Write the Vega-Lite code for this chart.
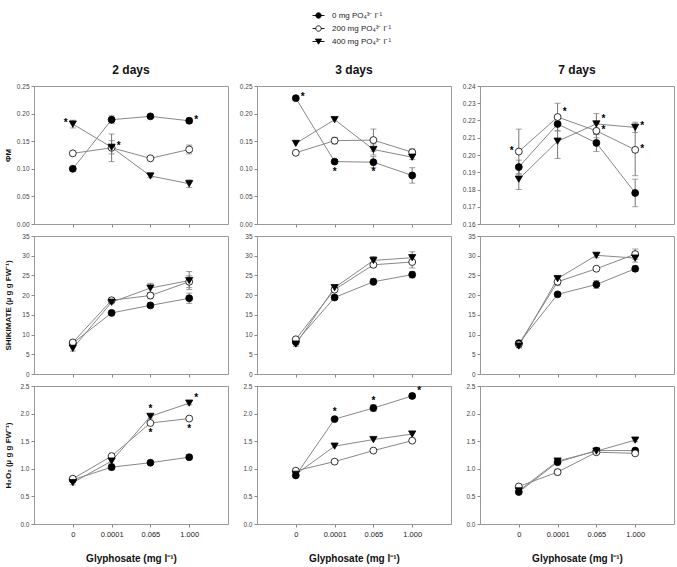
{
  "$schema": "https://vega.github.io/schema/vega-lite/v6.json",
  "padding": {"left": 3, "top": 9, "right": 5, "bottom": 5},
  "config": {
    "font": "Liberation Sans",
    "view": {"stroke": "#999", "strokeWidth": 1},
    "axis": {"domain": false, "grid": false, "tickColor": "#888", "tickSize": 3, "labelColor": "#444", "labelFontSize": 6.5, "labelPadding": 2, "titleFontWeight": "bold", "titleColor": "#111"},
    "title": {"fontSize": 12, "fontWeight": "bold", "offset": 6, "color": "#111"},
    "legend": {"orient": "none", "legendX": 278, "legendY": -77, "title": null, "labelFontSize": 8, "labelColor": "#222", "symbolSize": 144, "symbolOpacity": 1, "rowPadding": 2, "labelOffset": 7, "symbolStrokeWidth": 0.9}
  },
  "datasets": {
    "d": [
      {"d":"2","v":"p","g":"0","c":"0","m":0.100,"e":0.004,"s":""},
      {"d":"2","v":"p","g":"0","c":"0.0001","m":0.189,"e":0.007,"s":""},
      {"d":"2","v":"p","g":"0","c":"0.065","m":0.195,"e":0.003,"s":""},
      {"d":"2","v":"p","g":"0","c":"1.000","m":0.187,"e":0.005,"s":"r"},
      {"d":"2","v":"p","g":"200","c":"0","m":0.128,"e":0,"s":""},
      {"d":"2","v":"p","g":"200","c":"0.0001","m":0.138,"e":0.025,"s":""},
      {"d":"2","v":"p","g":"200","c":"0.065","m":0.119,"e":0,"s":""},
      {"d":"2","v":"p","g":"200","c":"1.000","m":0.135,"e":0.008,"s":""},
      {"d":"2","v":"p","g":"400","c":"0","m":0.181,"e":0.007,"s":"l"},
      {"d":"2","v":"p","g":"400","c":"0.0001","m":0.139,"e":0.012,"s":"r"},
      {"d":"2","v":"p","g":"400","c":"0.065","m":0.087,"e":0.003,"s":""},
      {"d":"2","v":"p","g":"400","c":"1.000","m":0.073,"e":0.007,"s":""},

      {"d":"3","v":"p","g":"0","c":"0","m":0.228,"e":0.003,"s":"r"},
      {"d":"3","v":"p","g":"0","c":"0.0001","m":0.113,"e":0.003,"s":"b"},
      {"d":"3","v":"p","g":"0","c":"0.065","m":0.112,"e":0.010,"s":"b"},
      {"d":"3","v":"p","g":"0","c":"1.000","m":0.088,"e":0.014,"s":""},
      {"d":"3","v":"p","g":"200","c":"0","m":0.129,"e":0.002,"s":""},
      {"d":"3","v":"p","g":"200","c":"0.0001","m":0.151,"e":0.006,"s":""},
      {"d":"3","v":"p","g":"200","c":"0.065","m":0.152,"e":0.020,"s":""},
      {"d":"3","v":"p","g":"200","c":"1.000","m":0.130,"e":0.006,"s":""},
      {"d":"3","v":"p","g":"400","c":"0","m":0.146,"e":0,"s":""},
      {"d":"3","v":"p","g":"400","c":"0.0001","m":0.189,"e":0,"s":""},
      {"d":"3","v":"p","g":"400","c":"0.065","m":0.135,"e":0.010,"s":""},
      {"d":"3","v":"p","g":"400","c":"1.000","m":0.121,"e":0.004,"s":""},

      {"d":"7","v":"p","g":"0","c":"0","m":0.193,"e":0.004,"s":""},
      {"d":"7","v":"p","g":"0","c":"0.0001","m":0.218,"e":0.004,"s":""},
      {"d":"7","v":"p","g":"0","c":"0.065","m":0.207,"e":0.005,"s":""},
      {"d":"7","v":"p","g":"0","c":"1.000","m":0.178,"e":0.008,"s":""},
      {"d":"7","v":"p","g":"200","c":"0","m":0.202,"e":0.013,"s":"l"},
      {"d":"7","v":"p","g":"200","c":"0.0001","m":0.222,"e":0.008,"s":"u"},
      {"d":"7","v":"p","g":"200","c":"0.065","m":0.214,"e":0.004,"s":"r"},
      {"d":"7","v":"p","g":"200","c":"1.000","m":0.203,"e":0.015,"s":"r"},
      {"d":"7","v":"p","g":"400","c":"0","m":0.186,"e":0.006,"s":""},
      {"d":"7","v":"p","g":"400","c":"0.0001","m":0.208,"e":0.010,"s":""},
      {"d":"7","v":"p","g":"400","c":"0.065","m":0.218,"e":0.006,"s":"u"},
      {"d":"7","v":"p","g":"400","c":"1.000","m":0.216,"e":0.003,"s":"r"},

      {"d":"2","v":"s","g":"0","c":"0","m":7.8,"e":0.3,"s":""},
      {"d":"2","v":"s","g":"0","c":"0.0001","m":15.5,"e":0.5,"s":""},
      {"d":"2","v":"s","g":"0","c":"0.065","m":17.4,"e":0.5,"s":""},
      {"d":"2","v":"s","g":"0","c":"1.000","m":19.2,"e":1.3,"s":""},
      {"d":"2","v":"s","g":"200","c":"0","m":8.0,"e":0.4,"s":""},
      {"d":"2","v":"s","g":"200","c":"0.0001","m":18.7,"e":0.5,"s":""},
      {"d":"2","v":"s","g":"200","c":"0.065","m":19.9,"e":0.8,"s":""},
      {"d":"2","v":"s","g":"200","c":"1.000","m":23.4,"e":1.5,"s":""},
      {"d":"2","v":"s","g":"400","c":"0","m":6.5,"e":0.7,"s":""},
      {"d":"2","v":"s","g":"400","c":"0.0001","m":18.2,"e":0.4,"s":""},
      {"d":"2","v":"s","g":"400","c":"0.065","m":21.8,"e":1.2,"s":""},
      {"d":"2","v":"s","g":"400","c":"1.000","m":23.7,"e":2.3,"s":""},

      {"d":"3","v":"s","g":"0","c":"0","m":8.1,"e":0,"s":""},
      {"d":"3","v":"s","g":"0","c":"0.0001","m":19.4,"e":0.5,"s":""},
      {"d":"3","v":"s","g":"0","c":"0.065","m":23.4,"e":0.8,"s":""},
      {"d":"3","v":"s","g":"0","c":"1.000","m":25.2,"e":0.8,"s":""},
      {"d":"3","v":"s","g":"200","c":"0","m":8.8,"e":0,"s":""},
      {"d":"3","v":"s","g":"200","c":"0.0001","m":21.4,"e":0,"s":""},
      {"d":"3","v":"s","g":"200","c":"0.065","m":27.7,"e":0.6,"s":""},
      {"d":"3","v":"s","g":"200","c":"1.000","m":28.4,"e":1.5,"s":""},
      {"d":"3","v":"s","g":"400","c":"0","m":7.6,"e":0.6,"s":""},
      {"d":"3","v":"s","g":"400","c":"0.0001","m":21.9,"e":0,"s":""},
      {"d":"3","v":"s","g":"400","c":"0.065","m":28.8,"e":1.0,"s":""},
      {"d":"3","v":"s","g":"400","c":"1.000","m":29.5,"e":1.5,"s":""},

      {"d":"7","v":"s","g":"0","c":"0","m":7.8,"e":0,"s":""},
      {"d":"7","v":"s","g":"0","c":"0.0001","m":20.2,"e":0.5,"s":""},
      {"d":"7","v":"s","g":"0","c":"0.065","m":22.7,"e":1.0,"s":""},
      {"d":"7","v":"s","g":"0","c":"1.000","m":26.7,"e":0.7,"s":""},
      {"d":"7","v":"s","g":"200","c":"0","m":7.5,"e":0,"s":""},
      {"d":"7","v":"s","g":"200","c":"0.0001","m":23.4,"e":1.0,"s":""},
      {"d":"7","v":"s","g":"200","c":"0.065","m":26.7,"e":0,"s":""},
      {"d":"7","v":"s","g":"200","c":"1.000","m":30.4,"e":1.3,"s":""},
      {"d":"7","v":"s","g":"400","c":"0","m":7.1,"e":0.5,"s":""},
      {"d":"7","v":"s","g":"400","c":"0.0001","m":24.2,"e":0,"s":""},
      {"d":"7","v":"s","g":"400","c":"0.065","m":30.1,"e":0.6,"s":""},
      {"d":"7","v":"s","g":"400","c":"1.000","m":29.4,"e":1.0,"s":""},

      {"d":"2","v":"h","g":"0","c":"0","m":0.80,"e":0,"s":""},
      {"d":"2","v":"h","g":"0","c":"0.0001","m":1.03,"e":0.05,"s":""},
      {"d":"2","v":"h","g":"0","c":"0.065","m":1.11,"e":0.03,"s":""},
      {"d":"2","v":"h","g":"0","c":"1.000","m":1.21,"e":0.03,"s":""},
      {"d":"2","v":"h","g":"200","c":"0","m":0.82,"e":0,"s":""},
      {"d":"2","v":"h","g":"200","c":"0.0001","m":1.23,"e":0,"s":""},
      {"d":"2","v":"h","g":"200","c":"0.065","m":1.83,"e":0,"s":"b"},
      {"d":"2","v":"h","g":"200","c":"1.000","m":1.91,"e":0,"s":"b"},
      {"d":"2","v":"h","g":"400","c":"0","m":0.75,"e":0.04,"s":""},
      {"d":"2","v":"h","g":"400","c":"0.0001","m":1.14,"e":0.05,"s":""},
      {"d":"2","v":"h","g":"400","c":"0.065","m":1.95,"e":0.03,"s":"a"},
      {"d":"2","v":"h","g":"400","c":"1.000","m":2.19,"e":0.03,"s":"u"},

      {"d":"3","v":"h","g":"0","c":"0","m":0.88,"e":0.02,"s":""},
      {"d":"3","v":"h","g":"0","c":"0.0001","m":1.90,"e":0.03,"s":"a"},
      {"d":"3","v":"h","g":"0","c":"0.065","m":2.10,"e":0.06,"s":"a"},
      {"d":"3","v":"h","g":"0","c":"1.000","m":2.32,"e":0.04,"s":"u"},
      {"d":"3","v":"h","g":"200","c":"0","m":0.965,"e":0,"s":""},
      {"d":"3","v":"h","g":"200","c":"0.0001","m":1.13,"e":0,"s":""},
      {"d":"3","v":"h","g":"200","c":"0.065","m":1.33,"e":0,"s":""},
      {"d":"3","v":"h","g":"200","c":"1.000","m":1.51,"e":0,"s":""},
      {"d":"3","v":"h","g":"400","c":"0","m":0.90,"e":0,"s":""},
      {"d":"3","v":"h","g":"400","c":"0.0001","m":1.41,"e":0,"s":""},
      {"d":"3","v":"h","g":"400","c":"0.065","m":1.53,"e":0,"s":""},
      {"d":"3","v":"h","g":"400","c":"1.000","m":1.63,"e":0,"s":""},

      {"d":"7","v":"h","g":"0","c":"0","m":0.58,"e":0,"s":""},
      {"d":"7","v":"h","g":"0","c":"0.0001","m":1.12,"e":0.03,"s":""},
      {"d":"7","v":"h","g":"0","c":"0.065","m":1.33,"e":0,"s":""},
      {"d":"7","v":"h","g":"0","c":"1.000","m":1.33,"e":0,"s":""},
      {"d":"7","v":"h","g":"200","c":"0","m":0.68,"e":0,"s":""},
      {"d":"7","v":"h","g":"200","c":"0.0001","m":0.94,"e":0.05,"s":""},
      {"d":"7","v":"h","g":"200","c":"0.065","m":1.30,"e":0,"s":""},
      {"d":"7","v":"h","g":"200","c":"1.000","m":1.28,"e":0,"s":""},
      {"d":"7","v":"h","g":"400","c":"0","m":0.60,"e":0,"s":""},
      {"d":"7","v":"h","g":"400","c":"0.0001","m":1.14,"e":0,"s":""},
      {"d":"7","v":"h","g":"400","c":"0.065","m":1.32,"e":0,"s":""},
      {"d":"7","v":"h","g":"400","c":"1.000","m":1.52,"e":0.03,"s":""}
    ]
  },
  "spacing": 4,
  "vconcat": [
    {"hconcat": [
      {"width": 194, "height": 138, "title": "2 days", "data": {"name": "d"},
       "transform": [{"filter": "datum.d=='2' && datum.v=='p'"}],
       "encoding": {
         "x": {"field": "c", "type": "ordinal", "scale": {"type": "point", "padding": 1, "domain": ["0","0.0001","0.065","1.000"]}, "axis": {"labels": false, "title": null}},
         "y": {"field": "m", "type": "quantitative", "scale": {"domain": [0, 0.25], "nice": false, "zero": false}, "axis": {"values": [0,0.05,0.1,0.15,0.2,0.25], "format": ".2f", "title": "ΦM", "titleFontSize": 8, "titlePadding": 3, "minExtent": 19, "maxExtent": 19}}
       },
       "layer": [
         {"mark": {"type": "line", "color": "#888", "strokeWidth": 1}, "encoding": {"detail": {"field": "g"}}},
         {"transform": [{"filter": "datum.e>0"}], "mark": {"type": "errorbar", "ticks": {"size": 6}, "color": "#777"}, "encoding": {"yError": {"field": "e"}}},
         {"transform": [{"filter": "datum.g=='0'"}], "mark": {"type": "point", "shape": "circle", "filled": true, "fill": "black", "stroke": "black", "strokeWidth": 0.8, "size": 48, "opacity": 1}},
         {"transform": [{"filter": "datum.g=='200'"}], "mark": {"type": "point", "shape": "circle", "filled": true, "fill": "white", "stroke": "black", "strokeWidth": 0.8, "size": 48, "opacity": 1}},
         {"transform": [{"filter": "datum.g=='400'"}], "mark": {"type": "point", "shape": "triangle-down", "filled": true, "fill": "black", "stroke": "black", "strokeWidth": 0.8, "size": 52, "opacity": 1}},
         {"mark": {"type": "point", "filled": true, "opacity": 0},
          "encoding": {
            "shape": {"field": "g", "type": "nominal", "scale": {"domain": ["0","200","400"], "range": ["M-1,0H1M0.45,0A0.45,0.45,0,1,1,-0.45,0A0.45,0.45,0,1,1,0.45,0Z", "M-1,0H-0.45M0.45,0H1M0.45,0A0.45,0.45,0,1,1,-0.45,0A0.45,0.45,0,1,1,0.45,0Z", "M-1,0H1M-0.5,-0.4H0.5L0,0.45Z"]}, "legend": {"labelExpr": "datum.label + ' mg PO₄³⁻ l⁻¹'"}},
            "fill": {"field": "g", "type": "nominal", "scale": {"domain": ["0","200","400"], "range": ["black","white","black"]}, "legend": {"labelExpr": "datum.label + ' mg PO₄³⁻ l⁻¹'"}},
            "stroke": {"field": "g", "type": "nominal", "scale": {"domain": ["0","200","400"], "range": ["black","black","black"]}, "legend": {"labelExpr": "datum.label + ' mg PO₄³⁻ l⁻¹'"}}
          }},
         {"transform": [{"filter": "datum.s=='r'"}], "mark": {"type": "text", "text": "*", "dx": 7, "dy": -1, "fontSize": 10, "fontWeight": "bold", "color": "black"}},
         {"transform": [{"filter": "datum.s=='u'"}], "mark": {"type": "text", "text": "*", "dx": 7, "dy": -5, "fontSize": 10, "fontWeight": "bold", "color": "black"}},
         {"transform": [{"filter": "datum.s=='l'"}], "mark": {"type": "text", "text": "*", "dx": -7, "dy": -1, "fontSize": 10, "fontWeight": "bold", "color": "black"}},
         {"transform": [{"filter": "datum.s=='a'"}], "mark": {"type": "text", "text": "*", "dy": -7, "fontSize": 10, "fontWeight": "bold", "color": "black"}},
         {"transform": [{"filter": "datum.s=='b'"}], "mark": {"type": "text", "text": "*", "dy": 10, "fontSize": 10, "fontWeight": "bold", "color": "black"}}
       ]},
      {"width": 194, "height": 138, "title": "3 days", "data": {"name": "d"},
       "transform": [{"filter": "datum.d=='3' && datum.v=='p'"}],
       "encoding": {
         "x": {"field": "c", "type": "ordinal", "scale": {"type": "point", "padding": 1, "domain": ["0","0.0001","0.065","1.000"]}, "axis": {"labels": false, "title": null}},
         "y": {"field": "m", "type": "quantitative", "scale": {"domain": [0, 0.25], "nice": false, "zero": false}, "axis": {"values": [0,0.05,0.1,0.15,0.2,0.25], "format": ".2f", "title": null, "minExtent": 19, "maxExtent": 19}}
       },
       "layer": [
         {"mark": {"type": "line", "color": "#888", "strokeWidth": 1}, "encoding": {"detail": {"field": "g"}}},
         {"transform": [{"filter": "datum.e>0"}], "mark": {"type": "errorbar", "ticks": {"size": 6}, "color": "#777"}, "encoding": {"yError": {"field": "e"}}},
         {"transform": [{"filter": "datum.g=='0'"}], "mark": {"type": "point", "shape": "circle", "filled": true, "fill": "black", "stroke": "black", "strokeWidth": 0.8, "size": 48, "opacity": 1}},
         {"transform": [{"filter": "datum.g=='200'"}], "mark": {"type": "point", "shape": "circle", "filled": true, "fill": "white", "stroke": "black", "strokeWidth": 0.8, "size": 48, "opacity": 1}},
         {"transform": [{"filter": "datum.g=='400'"}], "mark": {"type": "point", "shape": "triangle-down", "filled": true, "fill": "black", "stroke": "black", "strokeWidth": 0.8, "size": 52, "opacity": 1}},
         {"transform": [{"filter": "datum.s=='r'"}], "mark": {"type": "text", "text": "*", "dx": 7, "dy": -1, "fontSize": 10, "fontWeight": "bold", "color": "black"}},
         {"transform": [{"filter": "datum.s=='u'"}], "mark": {"type": "text", "text": "*", "dx": 7, "dy": -5, "fontSize": 10, "fontWeight": "bold", "color": "black"}},
         {"transform": [{"filter": "datum.s=='l'"}], "mark": {"type": "text", "text": "*", "dx": -7, "dy": -1, "fontSize": 10, "fontWeight": "bold", "color": "black"}},
         {"transform": [{"filter": "datum.s=='a'"}], "mark": {"type": "text", "text": "*", "dy": -7, "fontSize": 10, "fontWeight": "bold", "color": "black"}},
         {"transform": [{"filter": "datum.s=='b'"}], "mark": {"type": "text", "text": "*", "dy": 10, "fontSize": 10, "fontWeight": "bold", "color": "black"}}
       ]},
      {"width": 194, "height": 138, "title": "7 days", "data": {"name": "d"},
       "transform": [{"filter": "datum.d=='7' && datum.v=='p'"}],
       "encoding": {
         "x": {"field": "c", "type": "ordinal", "scale": {"type": "point", "padding": 1, "domain": ["0","0.0001","0.065","1.000"]}, "axis": {"labels": false, "title": null}},
         "y": {"field": "m", "type": "quantitative", "scale": {"domain": [0.16, 0.24], "nice": false, "zero": false}, "axis": {"values": [0.16,0.17,0.18,0.19,0.2,0.21,0.22,0.23,0.24], "format": ".2f", "title": null, "minExtent": 19, "maxExtent": 19}}
       },
       "layer": [
         {"mark": {"type": "line", "color": "#888", "strokeWidth": 1}, "encoding": {"detail": {"field": "g"}}},
         {"transform": [{"filter": "datum.e>0"}], "mark": {"type": "errorbar", "ticks": {"size": 6}, "color": "#777"}, "encoding": {"yError": {"field": "e"}}},
         {"transform": [{"filter": "datum.g=='0'"}], "mark": {"type": "point", "shape": "circle", "filled": true, "fill": "black", "stroke": "black", "strokeWidth": 0.8, "size": 48, "opacity": 1}},
         {"transform": [{"filter": "datum.g=='200'"}], "mark": {"type": "point", "shape": "circle", "filled": true, "fill": "white", "stroke": "black", "strokeWidth": 0.8, "size": 48, "opacity": 1}},
         {"transform": [{"filter": "datum.g=='400'"}], "mark": {"type": "point", "shape": "triangle-down", "filled": true, "fill": "black", "stroke": "black", "strokeWidth": 0.8, "size": 52, "opacity": 1}},
         {"transform": [{"filter": "datum.s=='r'"}], "mark": {"type": "text", "text": "*", "dx": 7, "dy": -1, "fontSize": 10, "fontWeight": "bold", "color": "black"}},
         {"transform": [{"filter": "datum.s=='u'"}], "mark": {"type": "text", "text": "*", "dx": 7, "dy": -5, "fontSize": 10, "fontWeight": "bold", "color": "black"}},
         {"transform": [{"filter": "datum.s=='l'"}], "mark": {"type": "text", "text": "*", "dx": -7, "dy": -1, "fontSize": 10, "fontWeight": "bold", "color": "black"}},
         {"transform": [{"filter": "datum.s=='a'"}], "mark": {"type": "text", "text": "*", "dy": -7, "fontSize": 10, "fontWeight": "bold", "color": "black"}},
         {"transform": [{"filter": "datum.s=='b'"}], "mark": {"type": "text", "text": "*", "dy": 10, "fontSize": 10, "fontWeight": "bold", "color": "black"}}
       ]}
    ], "spacing": 8},
    {"hconcat": [
      {"width": 194, "height": 138, "data": {"name": "d"},
       "transform": [{"filter": "datum.d=='2' && datum.v=='s'"}],
       "encoding": {
         "x": {"field": "c", "type": "ordinal", "scale": {"type": "point", "padding": 1, "domain": ["0","0.0001","0.065","1.000"]}, "axis": {"labels": false, "title": null}},
         "y": {"field": "m", "type": "quantitative", "scale": {"domain": [0, 35], "nice": false, "zero": false}, "axis": {"values": [0,5,10,15,20,25,30,35], "format": "d", "title": "SHIKIMATE (µ g g FW⁻¹)", "titleFontSize": 8, "titlePadding": 3, "minExtent": 19, "maxExtent": 19}}
       },
       "layer": [
         {"mark": {"type": "line", "color": "#888", "strokeWidth": 1}, "encoding": {"detail": {"field": "g"}}},
         {"transform": [{"filter": "datum.e>0"}], "mark": {"type": "errorbar", "ticks": {"size": 6}, "color": "#777"}, "encoding": {"yError": {"field": "e"}}},
         {"transform": [{"filter": "datum.g=='0'"}], "mark": {"type": "point", "shape": "circle", "filled": true, "fill": "black", "stroke": "black", "strokeWidth": 0.8, "size": 48, "opacity": 1}},
         {"transform": [{"filter": "datum.g=='200'"}], "mark": {"type": "point", "shape": "circle", "filled": true, "fill": "white", "stroke": "black", "strokeWidth": 0.8, "size": 48, "opacity": 1}},
         {"transform": [{"filter": "datum.g=='400'"}], "mark": {"type": "point", "shape": "triangle-down", "filled": true, "fill": "black", "stroke": "black", "strokeWidth": 0.8, "size": 52, "opacity": 1}}
       ]},
      {"width": 194, "height": 138, "data": {"name": "d"},
       "transform": [{"filter": "datum.d=='3' && datum.v=='s'"}],
       "encoding": {
         "x": {"field": "c", "type": "ordinal", "scale": {"type": "point", "padding": 1, "domain": ["0","0.0001","0.065","1.000"]}, "axis": {"labels": false, "title": null}},
         "y": {"field": "m", "type": "quantitative", "scale": {"domain": [0, 35], "nice": false, "zero": false}, "axis": {"values": [0,5,10,15,20,25,30,35], "format": "d", "title": null, "minExtent": 19, "maxExtent": 19}}
       },
       "layer": [
         {"mark": {"type": "line", "color": "#888", "strokeWidth": 1}, "encoding": {"detail": {"field": "g"}}},
         {"transform": [{"filter": "datum.e>0"}], "mark": {"type": "errorbar", "ticks": {"size": 6}, "color": "#777"}, "encoding": {"yError": {"field": "e"}}},
         {"transform": [{"filter": "datum.g=='0'"}], "mark": {"type": "point", "shape": "circle", "filled": true, "fill": "black", "stroke": "black", "strokeWidth": 0.8, "size": 48, "opacity": 1}},
         {"transform": [{"filter": "datum.g=='200'"}], "mark": {"type": "point", "shape": "circle", "filled": true, "fill": "white", "stroke": "black", "strokeWidth": 0.8, "size": 48, "opacity": 1}},
         {"transform": [{"filter": "datum.g=='400'"}], "mark": {"type": "point", "shape": "triangle-down", "filled": true, "fill": "black", "stroke": "black", "strokeWidth": 0.8, "size": 52, "opacity": 1}}
       ]},
      {"width": 194, "height": 138, "data": {"name": "d"},
       "transform": [{"filter": "datum.d=='7' && datum.v=='s'"}],
       "encoding": {
         "x": {"field": "c", "type": "ordinal", "scale": {"type": "point", "padding": 1, "domain": ["0","0.0001","0.065","1.000"]}, "axis": {"labels": false, "title": null}},
         "y": {"field": "m", "type": "quantitative", "scale": {"domain": [0, 35], "nice": false, "zero": false}, "axis": {"values": [0,5,10,15,20,25,30,35], "format": "d", "title": null, "minExtent": 19, "maxExtent": 19}}
       },
       "layer": [
         {"mark": {"type": "line", "color": "#888", "strokeWidth": 1}, "encoding": {"detail": {"field": "g"}}},
         {"transform": [{"filter": "datum.e>0"}], "mark": {"type": "errorbar", "ticks": {"size": 6}, "color": "#777"}, "encoding": {"yError": {"field": "e"}}},
         {"transform": [{"filter": "datum.g=='0'"}], "mark": {"type": "point", "shape": "circle", "filled": true, "fill": "black", "stroke": "black", "strokeWidth": 0.8, "size": 48, "opacity": 1}},
         {"transform": [{"filter": "datum.g=='200'"}], "mark": {"type": "point", "shape": "circle", "filled": true, "fill": "white", "stroke": "black", "strokeWidth": 0.8, "size": 48, "opacity": 1}},
         {"transform": [{"filter": "datum.g=='400'"}], "mark": {"type": "point", "shape": "triangle-down", "filled": true, "fill": "black", "stroke": "black", "strokeWidth": 0.8, "size": 52, "opacity": 1}}
       ]}
    ], "spacing": 8},
    {"hconcat": [
      {"width": 194, "height": 138, "data": {"name": "d"},
       "transform": [{"filter": "datum.d=='2' && datum.v=='h'"}],
       "encoding": {
         "x": {"field": "c", "type": "ordinal", "scale": {"type": "point", "padding": 1, "domain": ["0","0.0001","0.065","1.000"]}, "axis": {"labelAngle": 0, "labelFontSize": 7.5, "labelColor": "#222", "labelPadding": 3, "title": "Glyphosate (mg l⁻¹)", "titleFontSize": 10, "titlePadding": 16}},
         "y": {"field": "m", "type": "quantitative", "scale": {"domain": [0, 2.5], "nice": false, "zero": false}, "axis": {"values": [0,0.5,1,1.5,2,2.5], "format": ".1f", "title": "H₂O₂ (µ g g FW⁻¹)", "titleFontSize": 8, "titlePadding": 3, "minExtent": 19, "maxExtent": 19}}
       },
       "layer": [
         {"mark": {"type": "line", "color": "#888", "strokeWidth": 1}, "encoding": {"detail": {"field": "g"}}},
         {"transform": [{"filter": "datum.e>0"}], "mark": {"type": "errorbar", "ticks": {"size": 6}, "color": "#777"}, "encoding": {"yError": {"field": "e"}}},
         {"transform": [{"filter": "datum.g=='0'"}], "mark": {"type": "point", "shape": "circle", "filled": true, "fill": "black", "stroke": "black", "strokeWidth": 0.8, "size": 48, "opacity": 1}},
         {"transform": [{"filter": "datum.g=='200'"}], "mark": {"type": "point", "shape": "circle", "filled": true, "fill": "white", "stroke": "black", "strokeWidth": 0.8, "size": 48, "opacity": 1}},
         {"transform": [{"filter": "datum.g=='400'"}], "mark": {"type": "point", "shape": "triangle-down", "filled": true, "fill": "black", "stroke": "black", "strokeWidth": 0.8, "size": 52, "opacity": 1}},
         {"transform": [{"filter": "datum.s=='r'"}], "mark": {"type": "text", "text": "*", "dx": 7, "dy": -1, "fontSize": 10, "fontWeight": "bold", "color": "black"}},
         {"transform": [{"filter": "datum.s=='u'"}], "mark": {"type": "text", "text": "*", "dx": 7, "dy": -5, "fontSize": 10, "fontWeight": "bold", "color": "black"}},
         {"transform": [{"filter": "datum.s=='l'"}], "mark": {"type": "text", "text": "*", "dx": -7, "dy": -1, "fontSize": 10, "fontWeight": "bold", "color": "black"}},
         {"transform": [{"filter": "datum.s=='a'"}], "mark": {"type": "text", "text": "*", "dy": -7, "fontSize": 10, "fontWeight": "bold", "color": "black"}},
         {"transform": [{"filter": "datum.s=='b'"}], "mark": {"type": "text", "text": "*", "dy": 10, "fontSize": 10, "fontWeight": "bold", "color": "black"}}
       ]},
      {"width": 194, "height": 138, "data": {"name": "d"},
       "transform": [{"filter": "datum.d=='3' && datum.v=='h'"}],
       "encoding": {
         "x": {"field": "c", "type": "ordinal", "scale": {"type": "point", "padding": 1, "domain": ["0","0.0001","0.065","1.000"]}, "axis": {"labelAngle": 0, "labelFontSize": 7.5, "labelColor": "#222", "labelPadding": 3, "title": "Glyphosate (mg l⁻¹)", "titleFontSize": 10, "titlePadding": 16}},
         "y": {"field": "m", "type": "quantitative", "scale": {"domain": [0, 2.5], "nice": false, "zero": false}, "axis": {"values": [0,0.5,1,1.5,2,2.5], "format": ".1f", "title": null, "minExtent": 19, "maxExtent": 19}}
       },
       "layer": [
         {"mark": {"type": "line", "color": "#888", "strokeWidth": 1}, "encoding": {"detail": {"field": "g"}}},
         {"transform": [{"filter": "datum.e>0"}], "mark": {"type": "errorbar", "ticks": {"size": 6}, "color": "#777"}, "encoding": {"yError": {"field": "e"}}},
         {"transform": [{"filter": "datum.g=='0'"}], "mark": {"type": "point", "shape": "circle", "filled": true, "fill": "black", "stroke": "black", "strokeWidth": 0.8, "size": 48, "opacity": 1}},
         {"transform": [{"filter": "datum.g=='200'"}], "mark": {"type": "point", "shape": "circle", "filled": true, "fill": "white", "stroke": "black", "strokeWidth": 0.8, "size": 48, "opacity": 1}},
         {"transform": [{"filter": "datum.g=='400'"}], "mark": {"type": "point", "shape": "triangle-down", "filled": true, "fill": "black", "stroke": "black", "strokeWidth": 0.8, "size": 52, "opacity": 1}},
         {"transform": [{"filter": "datum.s=='r'"}], "mark": {"type": "text", "text": "*", "dx": 7, "dy": -1, "fontSize": 10, "fontWeight": "bold", "color": "black"}},
         {"transform": [{"filter": "datum.s=='u'"}], "mark": {"type": "text", "text": "*", "dx": 7, "dy": -5, "fontSize": 10, "fontWeight": "bold", "color": "black"}},
         {"transform": [{"filter": "datum.s=='l'"}], "mark": {"type": "text", "text": "*", "dx": -7, "dy": -1, "fontSize": 10, "fontWeight": "bold", "color": "black"}},
         {"transform": [{"filter": "datum.s=='a'"}], "mark": {"type": "text", "text": "*", "dy": -7, "fontSize": 10, "fontWeight": "bold", "color": "black"}},
         {"transform": [{"filter": "datum.s=='b'"}], "mark": {"type": "text", "text": "*", "dy": 10, "fontSize": 10, "fontWeight": "bold", "color": "black"}}
       ]},
      {"width": 194, "height": 138, "data": {"name": "d"},
       "transform": [{"filter": "datum.d=='7' && datum.v=='h'"}],
       "encoding": {
         "x": {"field": "c", "type": "ordinal", "scale": {"type": "point", "padding": 1, "domain": ["0","0.0001","0.065","1.000"]}, "axis": {"labelAngle": 0, "labelFontSize": 7.5, "labelColor": "#222", "labelPadding": 3, "title": "Glyphosate (mg l⁻¹)", "titleFontSize": 10, "titlePadding": 16}},
         "y": {"field": "m", "type": "quantitative", "scale": {"domain": [0, 2.5], "nice": false, "zero": false}, "axis": {"values": [0,0.5,1,1.5,2,2.5], "format": ".1f", "title": null, "minExtent": 19, "maxExtent": 19}}
       },
       "layer": [
         {"mark": {"type": "line", "color": "#888", "strokeWidth": 1}, "encoding": {"detail": {"field": "g"}}},
         {"transform": [{"filter": "datum.e>0"}], "mark": {"type": "errorbar", "ticks": {"size": 6}, "color": "#777"}, "encoding": {"yError": {"field": "e"}}},
         {"transform": [{"filter": "datum.g=='0'"}], "mark": {"type": "point", "shape": "circle", "filled": true, "fill": "black", "stroke": "black", "strokeWidth": 0.8, "size": 48, "opacity": 1}},
         {"transform": [{"filter": "datum.g=='200'"}], "mark": {"type": "point", "shape": "circle", "filled": true, "fill": "white", "stroke": "black", "strokeWidth": 0.8, "size": 48, "opacity": 1}},
         {"transform": [{"filter": "datum.g=='400'"}], "mark": {"type": "point", "shape": "triangle-down", "filled": true, "fill": "black", "stroke": "black", "strokeWidth": 0.8, "size": 52, "opacity": 1}}
       ]}
    ], "spacing": 8}
  ]
}
